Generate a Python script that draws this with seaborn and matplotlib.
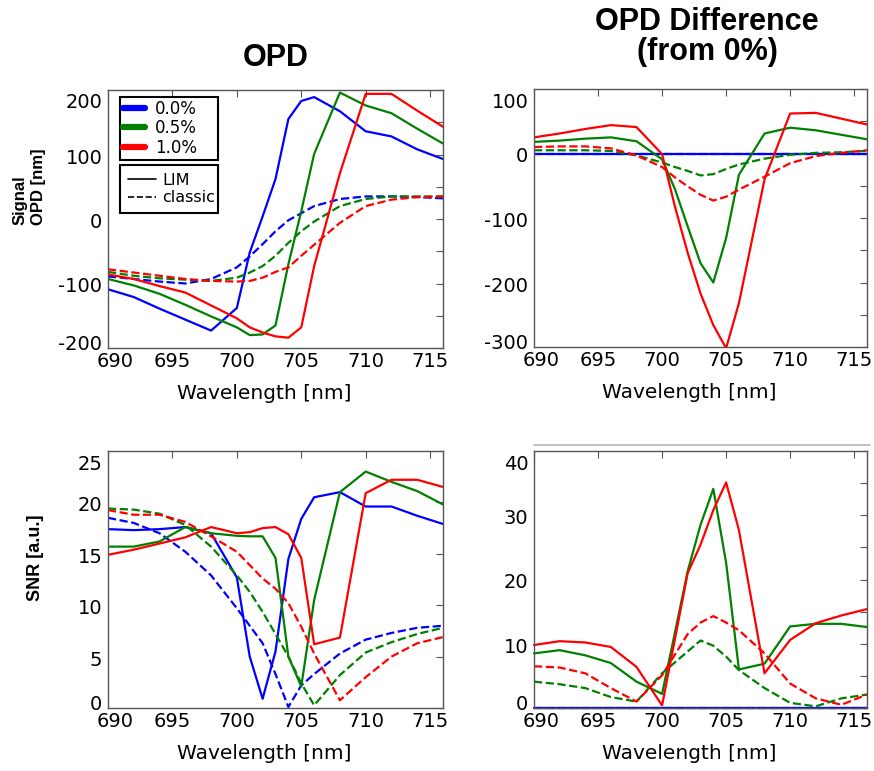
import matplotlib
matplotlib.use("Agg")
import matplotlib.pyplot as plt
from matplotlib.lines import Line2D
from matplotlib.ticker import MultipleLocator
from matplotlib.transforms import ScaledTranslation
from matplotlib import font_manager
import pandas as pd
import seaborn as sns

# ---------------------------------------------------------------- data
wavelength = [690, 692, 694, 696, 698, 700, 701, 702, 703, 704, 705, 706, 708, 710, 712, 714, 716]
mixes = ["0.0%", "0.5%", "1.0%"]
methods = ["LIM", "classic"]
mix_colors = ["blue", "green", "red"]
x_ticks = [690, 695, 700, 705, 710, 715]

# Signal OPD [nm]
opd_lim_00 = [-109, -121, -139, -156, -173, -138, -52, 4, 62, 155, 183, 189, 167, 136, 128, 108, 93]
opd_lim_05 = [-93, -103, -116, -133, -151, -168, -180, -179, -165, -70, 12, 101, 196, 176, 164, 140, 117]
opd_lim_10 = [-86, -93, -104, -114, -134, -154, -168, -176, -182, -184, -168, -73, 71, 194, 194, 168, 143]
opd_cls_00 = [-89, -93, -97, -100, -93, -75, -58, -39, -19, -2, 9, 20, 31, 35, 35, 34, 32]
opd_cls_05 = [-82, -88, -92, -94, -96, -91, -83, -73, -57, -37, -19, -4, 20, 31, 35, 35, 35]
opd_cls_10 = [-78, -83, -88, -93, -96, -97, -96, -91, -82, -75, -57, -40, -6, 20, 30, 34, 35]
opd_ticks = [-200, -100, 0, 100, 200]

# OPD difference from the 0% mix [nm]
dopd_lim_00 = [0] * 17
dopd_lim_05 = [18, 20, 23, 25, 19, -9, -55, -113, -170, -200, -131, -33, 31, 40, 36, 29, 22]
dopd_lim_10 = [25, 31, 38, 44, 41, -1, -82, -154, -217, -266, -302, -232, -40, 62, 63, 54, 45]
dopd_cls_00 = [0] * 17
dopd_cls_05 = [5, 5, 5, 4, -3, -14, -21, -27, -34, -32, -24, -17, -8, -2, 1, 2, 4]
dopd_cls_10 = [10, 11, 11, 8, -3, -21, -37, -51, -64, -73, -67, -56, -36, -15, -4, 1, 5]
dopd_ticks = [-300, -200, -100, 0, 100]

# SNR [a.u.]
snr_lim_00 = [17.4, 17.3, 17.4, 17.6, 17.0, 12.7, 5.0, 0.9, 5.5, 14.5, 18.4, 20.5, 21.0, 19.6, 19.6, 18.7, 17.9]
snr_lim_05 = [15.7, 15.7, 16.2, 17.6, 17.0, 16.75, 16.7, 16.7, 14.6, 5.0, 2.1, 10.5, 21.0, 23.0, 22.0, 21.1, 19.8]
snr_lim_10 = [14.9, 15.4, 16.0, 16.6, 17.6, 17.0, 17.1, 17.5, 17.6, 16.9, 14.6, 6.2, 6.85, 20.9, 22.2, 22.2, 21.5]
snr_cls_00 = [18.5, 18.0, 17.0, 15.2, 12.9, 9.7, 8.0, 6.3, 3.3, 0.1, 2.2, 3.3, 5.3, 6.65, 7.3, 7.8, 8.0]
snr_cls_05 = [19.4, 19.3, 18.9, 17.8, 15.7, 12.9, 11.3, 9.35, 7.2, 5.0, 2.4, 0.26, 3.2, 5.4, 6.4, 7.2, 7.8]
snr_cls_10 = [19.25, 18.8, 18.8, 18.1, 16.7, 15.2, 13.9, 12.6, 11.6, 10.2, 7.9, 5.3, 0.75, 3.0, 5.0, 6.3, 6.9]
snr_ticks = [0, 5, 10, 15, 20, 25]

# SNR difference from the 0% mix
dsnr_lim_00 = [0] * 17
dsnr_lim_05 = [8.5, 9.0, 8.2, 7.0, 4.1, 2.2, 11.7, 21.3, 28.5, 34.1, 22.6, 6.0, 6.9, 12.7, 13.1, 13.1, 12.6]
dsnr_lim_10 = [9.8, 10.4, 10.2, 9.5, 6.4, 0.4, 10.7, 21.0, 25.4, 30.8, 35.1, 27.7, 5.4, 10.6, 13.2, 14.4, 15.4]
dsnr_cls_00 = [0] * 17
dsnr_cls_05 = [4.1, 3.7, 3.1, 1.7, 1.0, 5.4, 7.1, 8.8, 10.5, 9.7, 8.0, 5.9, 3.1, 0.8, 0.26, 1.5, 2.1]
dsnr_cls_10 = [6.5, 6.3, 5.4, 3.1, 1.0, 5.1, 8.3, 11.5, 13.3, 14.3, 13.3, 12.1, 8.5, 3.8, 1.5, 0.5, 2.1]
dsnr_ticks = [0, 10, 20, 30, 40]


def long_table(lim_series, cls_series):
    rows = []
    for method, series in (("LIM", lim_series), ("classic", cls_series)):
        for mix, values in zip(mixes, series):
            for wl, v in zip(wavelength, values):
                rows.append({"wavelength": wl, "value": v, "mix": mix, "method": method})
    return pd.DataFrame(rows)


opd_df = long_table([opd_lim_00, opd_lim_05, opd_lim_10], [opd_cls_00, opd_cls_05, opd_cls_10])
dopd_df = long_table([dopd_lim_00, dopd_lim_05, dopd_lim_10], [dopd_cls_00, dopd_cls_05, dopd_cls_10])
snr_df = long_table([snr_lim_00, snr_lim_05, snr_lim_10], [snr_cls_00, snr_cls_05, snr_cls_10])
dsnr_df = long_table([dsnr_lim_00, dsnr_lim_05, dsnr_lim_10], [dsnr_cls_00, dsnr_cls_05, dsnr_cls_10])

# ---------------------------------------------------------------- style
sns.set_style("white")
installed = {f.name for f in font_manager.fontManager.ttflist}
label_family = "Liberation Sans" if "Liberation Sans" in installed else "DejaVu Sans"
plt.rcParams["font.family"] = ["DejaVu Sans"]
plt.rcParams["axes.unicode_minus"] = False
plt.rcParams["text.color"] = "black"
plt.rcParams["axes.labelcolor"] = "black"

spine_gray = "#555555"
palette = dict(zip(mixes, mix_colors))
dashes = {"LIM": "", "classic": (3.7, 1.6)}

fig = plt.figure(figsize=(8.74, 7.71), dpi=100)
W, H = 874.0, 771.0


def add_axes(x0, y0, x1, y1):
    return fig.add_axes([x0 / W, 1 - y1 / H, (x1 - x0) / W, (y1 - y0) / H])


ax_opd = add_axes(108, 90, 443, 348)
ax_dopd = add_axes(534, 89, 867, 347)
ax_snr = add_axes(108, 451, 443, 708)
ax_dsnr = add_axes(534, 451, 867, 708)

panels = [
    (ax_opd, opd_df, (-200, 200), opd_ticks, 50),
    (ax_dopd, dopd_df, (-300, 100), dopd_ticks, 50),
    (ax_snr, snr_df, (0, 25), snr_ticks, None),
    (ax_dsnr, dsnr_df, (0, 40), dsnr_ticks, 5),
]

for ax, df, ylim, yticks, minor in panels:
    sns.lineplot(data=df, x="wavelength", y="value", hue="mix", style="method",
                 hue_order=mixes, style_order=methods, palette=palette, dashes=dashes,
                 estimator=None, sort=False, legend=False, linewidth=1.6, ax=ax)
    ax.set_xlim(690, 716)
    ax.set_ylim(*ylim)
    ax.set_xticks(x_ticks)
    ax.set_yticks(yticks)
    if minor:
        ax.yaxis.set_minor_locator(MultipleLocator(minor))
    ax.tick_params(which="both", direction="in", top=True, right=True,
                   length=5, width=0.8, color=spine_gray, labelsize=14,
                   labelcolor="black")
    ax.tick_params(axis="y", pad=4)
    ax.tick_params(axis="x", pad=3)
    ax.set_xlabel("Wavelength [nm]", fontsize=14.5)
    ax.xaxis.set_label_coords(0.465, -0.14)
    ax.set_ylabel("")
    for s in ax.spines.values():
        s.set_color(spine_gray)
        s.set_linewidth(1.0)

    # nudge the end labels inward so they stay clear of each other
    yt = ax.yaxis.get_major_ticks()
    for i, tick in enumerate(yt[:len(yticks)]):
        if i == len(yticks) - 1:
            dy = -0.11
        elif i == 0:
            dy = 0.055
        else:
            dy = -0.015
        tick.label1.set_transform(tick.label1.get_transform()
                                  + ScaledTranslation(0, dy, fig.dpi_scale_trans))
    xt = ax.xaxis.get_major_ticks()
    xt[0].label1.set_transform(xt[0].label1.get_transform()
                               + ScaledTranslation(0.07, 0, fig.dpi_scale_trans))

for line in ax_dsnr.lines:
    line.set_clip_on(False)

# ---------------------------------------------------------------- legends
mix_handles = [Line2D([], [], color=c, lw=4.5) for c in mix_colors]
leg1 = ax_opd.legend(mix_handles, mixes, loc="upper left",
                     bbox_to_anchor=(0.036, 0.0, 0.293, 0.973), mode="expand",
                     fontsize=12, handlelength=1.3, handletextpad=0.6,
                     labelspacing=0.08, borderpad=0.18, borderaxespad=0.0,
                     frameon=True, fancybox=False, framealpha=1.0)
leg1.get_frame().set_edgecolor("black")
leg1.get_frame().set_linewidth(1.5)
ax_opd.add_artist(leg1)

method_handles = [Line2D([], [], color="black", lw=1.2, ls="-"),
                  Line2D([], [], color="black", lw=1.2, ls="--")]
leg2 = ax_opd.legend(method_handles, methods, loc="upper left",
                     bbox_to_anchor=(0.036, 0.0, 0.293, 0.709), mode="expand",
                     fontsize=11.5, handlelength=1.75, handletextpad=0.4,
                     labelspacing=0.15, borderpad=0.5, borderaxespad=0.0,
                     frameon=True, fancybox=False, framealpha=1.0)
leg2.get_frame().set_edgecolor("black")
leg2.get_frame().set_linewidth(1.5)

# ---------------------------------------------------------------- titles and labels
fig.text(276 / W, 1 - 58 / H, "OPD", ha="center", va="center",
         fontsize=22, fontweight="bold", family=label_family)
fig.text(707 / W, 1 - 37 / H, "OPD Difference\n(from 0%)", ha="center", va="center",
         fontsize=22, fontweight="bold", family=label_family, linespacing=1.0)
fig.text(29 / W, 1 - 187 / H, "Signal\nOPD [nm]", ha="center", va="center", rotation=90,
         multialignment="left", fontsize=12, fontweight="bold", family=label_family,
         linespacing=1.3)
fig.text(36 / W, 1 - 558 / H, "SNR [a.u.]", ha="center", va="center", rotation=90,
         fontsize=13, fontweight="bold", family=label_family)

# thin rule above the lower right panel
fig.add_artist(Line2D([534 / W, 870 / W], [1 - 445 / H, 1 - 445 / H],
                      color="#b5b5b5", lw=1.2, transform=fig.transFigure))

fig.savefig("out.png", dpi=100)
